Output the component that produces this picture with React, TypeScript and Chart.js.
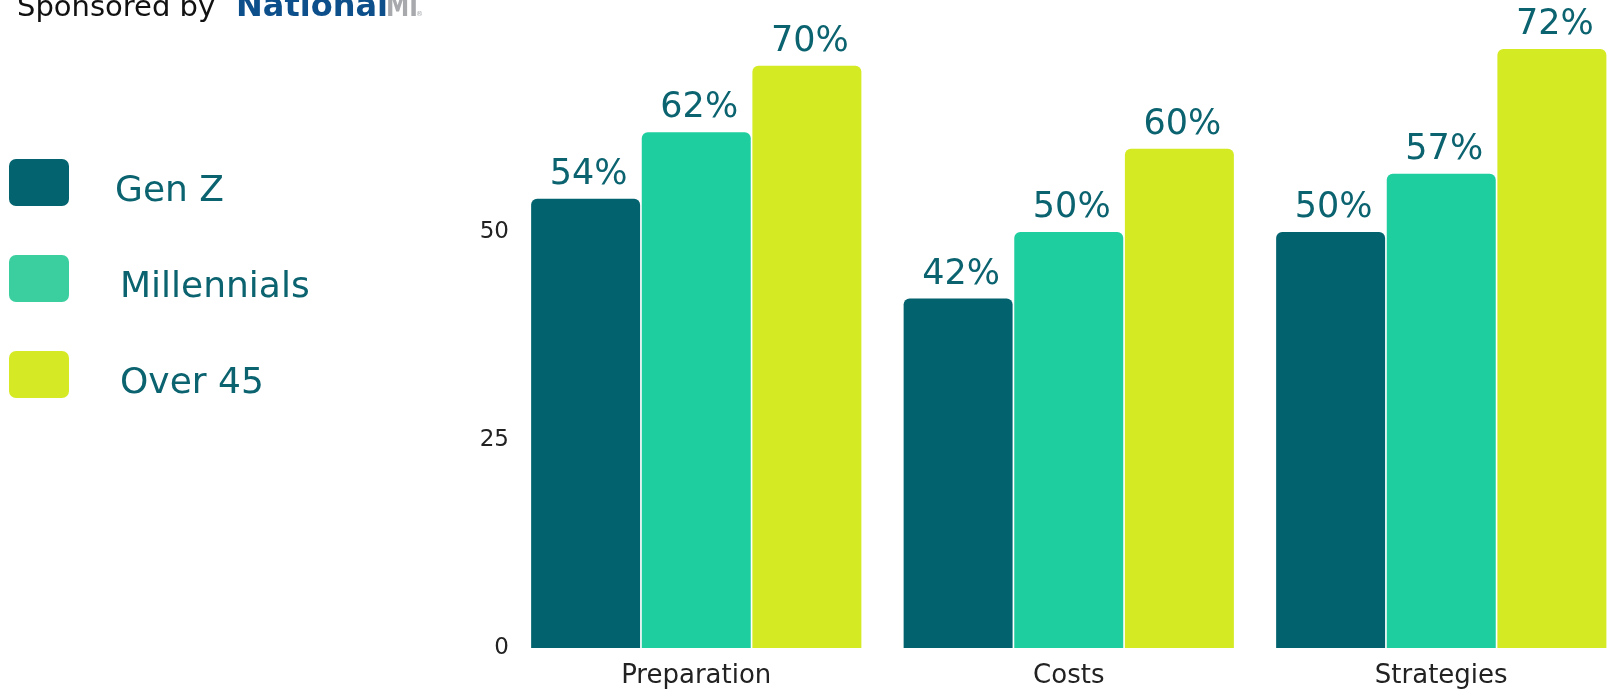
import React, { useEffect, useRef } from "react";
import { Chart, registerables } from "chart.js";

Chart.register(...registerables);

const categories = ["Preparation", "Costs", "Strategies"];
const seriesNames = ["Gen Z", "Millennials", "Over 45"];
const genZ = [54, 42, 50];
const millennials = [62, 50, 57];
const over45 = [70, 60, 72];
const seriesColors = ["#02636F", "#1FCE9E", "#D4EA23"];
const legendColors = ["#03636F", "#3BCFA0", "#D5EA24"];
const yTicks = [0, 25, 50];

const FONT = "'DejaVu Sans', sans-serif";
const LABEL_COLOR = "#0B6370";

const sponsorPlugin = {
  id: "sponsor",
  afterDraw(chart: any) {
    const ctx = chart.ctx as CanvasRenderingContext2D;
    ctx.save();
    ctx.textBaseline = "alphabetic";
    ctx.textAlign = "left";
    ctx.fillStyle = "#111111";
    ctx.font = `29px ${FONT}`;
    ctx.fillText("Sponsored by", 17, 16);
    ctx.font = `bold 32px ${FONT}`;
    ctx.fillStyle = "#0D4F8B";
    ctx.fillText("National", 236, 16);
    ctx.save();
    ctx.translate(386, 16);
    ctx.scale(0.73, 1);
    ctx.fillStyle = "#A7A9AC";
    ctx.fillText("MI", 0, 0);
    ctx.restore();
    ctx.font = `7px ${FONT}`;
    ctx.fillStyle = "#A7A9AC";
    ctx.fillText("®", 416, 16);
    ctx.restore();
  },
};

const legendPlugin = {
  id: "leftLegend",
  afterDraw(chart: any) {
    const ctx = chart.ctx as CanvasRenderingContext2D;
    ctx.save();
    chart.data.datasets.forEach((ds: any, i: number) => {
      const top = 159 + i * 96;
      ctx.fillStyle = legendColors[i];
      ctx.beginPath();
      (ctx as any).roundRect(9, top, 60, 47, 7);
      ctx.fill();
      ctx.fillStyle = LABEL_COLOR;
      ctx.font = `36px ${FONT}`;
      ctx.textAlign = "left";
      ctx.textBaseline = "alphabetic";
      ctx.fillText(ds.label, i === 0 ? 115 : 120, top + 42);
    });
    ctx.restore();
  },
};

const valueLabelPlugin = {
  id: "valueLabels",
  afterDatasetsDraw(chart: any) {
    const ctx = chart.ctx as CanvasRenderingContext2D;
    ctx.save();
    ctx.font = `35px ${FONT}`;
    ctx.fillStyle = LABEL_COLOR;
    ctx.textAlign = "center";
    ctx.textBaseline = "alphabetic";
    chart.data.datasets.forEach((ds: any, di: number) => {
      const meta = chart.getDatasetMeta(di);
      meta.data.forEach((bar: any, i: number) => {
        ctx.fillText(`${ds.data[i]}%`, bar.x + 3, bar.y - 15);
      });
    });
    ctx.restore();
  },
};

export default function App() {
  const ref = useRef<HTMLCanvasElement | null>(null);

  useEffect(() => {
    if (!ref.current) return;
    const chart = new Chart(ref.current, {
      type: "bar",
      data: {
        labels: categories,
        datasets: [genZ, millennials, over45].map((d, i) => ({
          label: seriesNames[i],
          data: d,
          backgroundColor: seriesColors[i],
          borderRadius: 6,
          borderSkipped: "start",
          categoryPercentage: 0.891,
          barPercentage: 0.985,
        })),
      },
      options: {
        responsive: false,
        maintainAspectRatio: false,
        animation: false,
        layout: { padding: { left: 450, right: 12.5, top: 49, bottom: 0 } },
        plugins: {
          legend: { display: false },
          tooltip: { enabled: false },
        },
        scales: {
          x: {
            grid: { display: false, drawTicks: false },
            border: { display: false },
            ticks: {
              color: "#222222",
              font: { family: FONT, size: 26 },
              padding: 13,
            },
            afterFit: (s: any) => {
              s.height = 42;
            },
          },
          y: {
            min: 0,
            max: 72,
            grid: { display: false, drawTicks: false },
            border: { display: false },
            afterBuildTicks: (s: any) => {
              s.ticks = yTicks.map((v) => ({ value: v }));
            },
            ticks: {
              color: "#222222",
              font: { family: FONT, size: 23 },
              padding: 1,
            },
            afterFit: (s: any) => {
              s.width = 60;
            },
          },
        },
      },
      plugins: [sponsorPlugin, legendPlugin, valueLabelPlugin],
    });
    return () => chart.destroy();
  }, []);

  return (
    <div
      style={{
        position: "fixed",
        left: 0,
        top: 0,
        width: 1610,
        height: 690,
        overflow: "hidden",
        background: "#ffffff",
      }}
    >
      <canvas
        ref={ref}
        width={1640}
        height={690}
        style={{ display: "block", width: 1640, height: 690 }}
      />
    </div>
  );
}
